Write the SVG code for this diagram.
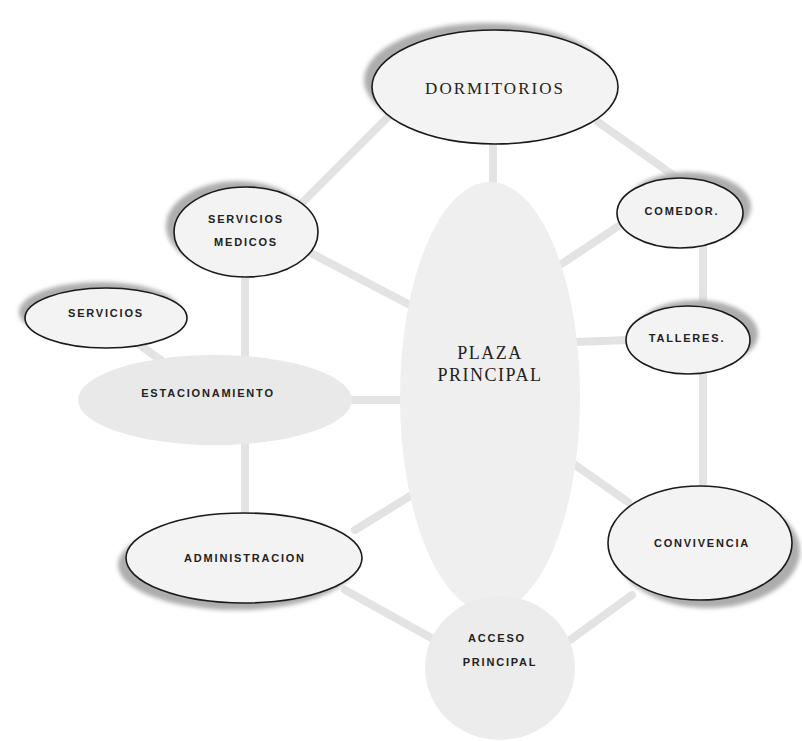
<svg xmlns="http://www.w3.org/2000/svg" width="802" height="741" viewBox="0 0 802 741">
<defs>
<filter id="blur" x="-20%" y="-20%" width="140%" height="140%"><feGaussianBlur stdDeviation="2"/></filter>
</defs>
<style>
.con line{stroke:#e3e3e3;stroke-width:8;stroke-linecap:round}
.shadow{fill:#adadad;filter:url(#blur)}
.node{fill:#f3f3f3;stroke:#1a1a1a;stroke-width:1.6}
.serif{font-family:"Liberation Serif","DejaVu Serif",serif;fill:#222;text-anchor:middle;dominant-baseline:central}
.sans{font-family:"Liberation Sans","DejaVu Sans",sans-serif;font-size:11px;font-weight:bold;letter-spacing:1.8px;fill:#222;text-anchor:middle;dominant-baseline:central}
</style>
<rect width="802" height="741" fill="#ffffff"/>
<g id="connectors" class="con">
<line x1="493" y1="140" x2="493" y2="190"/>
<line x1="598" y1="122" x2="680" y2="180"/>
<line x1="390" y1="115" x2="300" y2="205"/>
<line x1="305" y1="250" x2="410" y2="305"/>
<line x1="245" y1="275" x2="245" y2="362"/>
<line x1="140" y1="345" x2="185" y2="378"/>
<line x1="345" y1="400" x2="410" y2="400"/>
<line x1="245" y1="440" x2="245" y2="515"/>
<line x1="355" y1="530" x2="420" y2="490"/>
<line x1="345" y1="590" x2="435" y2="640"/>
<line x1="490" y1="605" x2="490" y2="620"/>
<line x1="570" y1="640" x2="632" y2="595"/>
<line x1="568" y1="460" x2="628" y2="502"/>
<line x1="575" y1="342" x2="628" y2="340"/>
<line x1="703" y1="245" x2="703" y2="308"/>
<line x1="703" y1="372" x2="703" y2="490"/>
<line x1="560" y1="265" x2="620" y2="225"/>
</g>
<g id="plaza-principal">
<ellipse cx="490" cy="397" rx="90" ry="215" fill="#efefef"/>
<text class="serif" x="490" y="353" font-size="18" letter-spacing="1.5">PLAZA</text>
<text class="serif" x="490" y="375" font-size="18" letter-spacing="1.5">PRINCIPAL</text>
</g>
<g id="dormitorios">
<ellipse class="shadow" cx="487" cy="80" rx="123" ry="57"/>
<ellipse class="node" cx="495" cy="87" rx="123" ry="57"/>
<text class="serif" x="495" y="88" font-size="17" letter-spacing="2">DORMITORIOS</text>
</g>
<g id="servicios-medicos">
<ellipse class="shadow" cx="238" cy="226" rx="72" ry="45"/>
<ellipse class="node" cx="246" cy="232" rx="72" ry="45"/>
<text class="sans" x="246" y="219">SERVICIOS</text>
<text class="sans" x="246" y="242">MEDICOS</text>
</g>
<g id="servicios">
<ellipse class="shadow" cx="100" cy="312" rx="81" ry="30"/>
<ellipse class="node" cx="106" cy="318" rx="81" ry="30"/>
<text class="sans" x="106" y="313">SERVICIOS</text>
</g>
<g id="estacionamiento">
<ellipse cx="215" cy="400" rx="137" ry="45" fill="#e9e9e9"/>
<text class="sans" x="208" y="393">ESTACIONAMIENTO</text>
</g>
<g id="administracion">
<ellipse class="shadow" cx="236" cy="565" rx="118" ry="45"/>
<ellipse class="node" cx="244" cy="558" rx="118" ry="45"/>
<text class="sans" x="245" y="558">ADMINISTRACION</text>
</g>
<g id="comedor">
<ellipse class="shadow" cx="688" cy="207" rx="63" ry="35"/>
<ellipse class="node" cx="680" cy="213" rx="63" ry="35"/>
<text class="sans" x="682" y="211">COMEDOR.</text>
</g>
<g id="talleres">
<ellipse class="shadow" cx="696" cy="334" rx="62" ry="34"/>
<ellipse class="node" cx="688" cy="340" rx="62" ry="34"/>
<text class="sans" x="687" y="338">TALLERES.</text>
</g>
<g id="convivencia">
<ellipse class="shadow" cx="708" cy="551" rx="92" ry="57"/>
<ellipse class="node" cx="700" cy="543" rx="92" ry="57"/>
<text class="sans" x="702" y="543">CONVIVENCIA</text>
</g>
<g id="acceso-principal">
<ellipse cx="500" cy="668" rx="75" ry="72" fill="#ececec"/>
<text class="sans" x="497" y="638">ACCESO</text>
<text class="sans" x="500" y="662">PRINCIPAL</text>
</g>
</svg>
